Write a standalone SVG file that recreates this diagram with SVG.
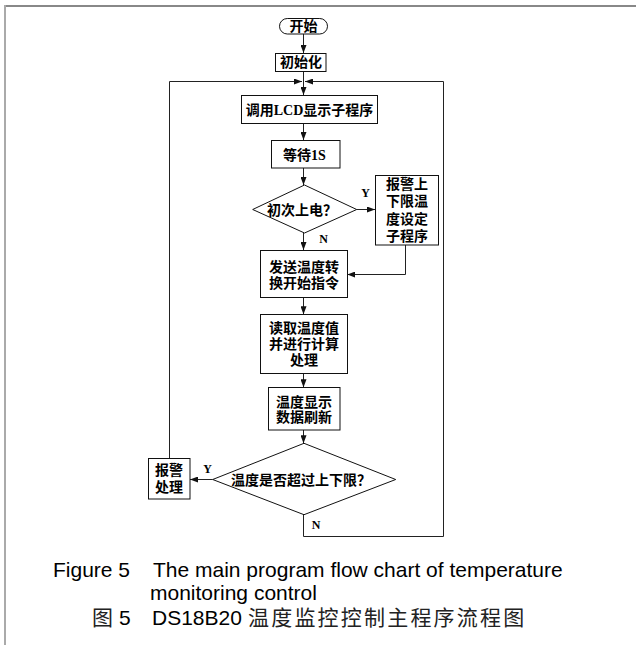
<svg xmlns="http://www.w3.org/2000/svg" width="636" height="645" viewBox="0 0 636 645">
  <defs>
    <marker id="arrow" markerUnits="userSpaceOnUse" markerWidth="8" markerHeight="6" refX="8" refY="3" orient="auto">
      <path d="M0,0 L8,3 L0,6 z" fill="#111"/>
    </marker>
    <style>
      .box { fill: #fff; stroke: #111; stroke-width: 1; }
      .line { fill: none; stroke: #222; stroke-width: 1; }
      .lbl { font-family: "Liberation Serif", "Noto Sans CJK SC", serif; font-weight: bold; font-size: 14px; fill: #000; text-anchor: middle; }
      .yn { font-family: "Liberation Serif", serif; font-weight: bold; font-size: 12px; fill: #000; text-anchor: middle; }
      .cap { font-family: "Liberation Sans", Arial, sans-serif; font-size: 21px; fill: #000; }
      .capcjk { font-family: "Noto Sans CJK SC", sans-serif; font-size: 21px; letter-spacing: 2.2px; fill: #222; }
    </style>
  </defs>

  <rect width="636" height="645" fill="#fff"/>

  <!-- page frame -->
  <rect x="4" y="5" width="632" height="2" fill="#888"/>
  <rect x="4" y="5" width="2" height="640" fill="#aaa"/>

  <!-- connectors -->
  <g id="connectors">
    <line class="line" x1="303.5" y1="34" x2="303.5" y2="53" marker-end="url(#arrow)"/>
    <line class="line" x1="303.5" y1="71.5" x2="303.5" y2="95" marker-end="url(#arrow)"/>
    <line class="line" x1="303.5" y1="123.5" x2="303.5" y2="140" marker-end="url(#arrow)"/>
    <line class="line" x1="303.5" y1="168" x2="303.5" y2="185" marker-end="url(#arrow)"/>
    <line class="line" x1="356.7" y1="209.5" x2="375" y2="209.5" marker-end="url(#arrow)"/>
    <line class="line" x1="303.5" y1="233" x2="303.5" y2="250" marker-end="url(#arrow)"/>
    <polyline class="line" points="405.5,245 405.5,274.5 347.3,274.5" marker-end="url(#arrow)"/>
    <line class="line" x1="303.5" y1="297.7" x2="303.5" y2="314.3" marker-end="url(#arrow)"/>
    <line class="line" x1="303.5" y1="373.3" x2="303.5" y2="387.3" marker-end="url(#arrow)"/>
    <line class="line" x1="303.5" y1="430" x2="303.5" y2="443.3" marker-end="url(#arrow)"/>
    <line class="line" x1="212.7" y1="479.5" x2="190" y2="479.5" marker-end="url(#arrow)"/>
    <polyline class="line" points="169.5,458.3 169.5,81.5 302,81.5" marker-end="url(#arrow)"/>
    <polyline class="line" points="303.5,514.7 303.5,536.5 443.5,536.5 443.5,81.5 305,81.5" marker-end="url(#arrow)"/>
  </g>

  <!-- flow nodes -->
  <g id="start">
    <rect class="box" x="279.5" y="18.5" width="48" height="15.5" rx="7.75"/>
    <text class="lbl" x="303.5" y="31">开始</text>
  </g>
  <g id="init">
    <rect class="box" x="275.5" y="53.5" width="50.5" height="18"/>
    <text class="lbl" x="301" y="67">初始化</text>
  </g>
  <g id="call-lcd">
    <rect class="box" x="241.5" y="95.5" width="136" height="28"/>
    <text class="lbl" x="309.5" y="114.5">调用LCD显示子程序</text>
  </g>
  <g id="wait">
    <rect class="box" x="271.5" y="140.5" width="68.5" height="27.5"/>
    <text class="lbl" x="304.5" y="160">等待1S</text>
  </g>
  <g id="first-power">
    <polygon class="box" points="252.7,209.5 304.5,185 356.7,209.5 304.5,233"/>
    <text class="lbl" x="302" y="215">初次上电？</text>
  </g>
  <g id="limit-setting">
    <rect class="box" x="375.5" y="175.5" width="63" height="69.5"/>
    <text class="lbl" x="407" y="188.5">报警上</text>
    <text class="lbl" x="407" y="206">下限温</text>
    <text class="lbl" x="407" y="223.5">度设定</text>
    <text class="lbl" x="407" y="241">子程序</text>
  </g>
  <g id="start-convert">
    <rect class="box" x="260.5" y="250.5" width="87" height="47"/>
    <text class="lbl" x="304" y="271.5">发送温度转</text>
    <text class="lbl" x="304" y="288">换开始指令</text>
  </g>
  <g id="read-calc">
    <rect class="box" x="260.5" y="314.5" width="87" height="59"/>
    <text class="lbl" x="304" y="333">读取温度值</text>
    <text class="lbl" x="304" y="349">并进行计算</text>
    <text class="lbl" x="304" y="364.5">处理</text>
  </g>
  <g id="refresh">
    <rect class="box" x="268.5" y="387.5" width="71.5" height="42.5"/>
    <text class="lbl" x="304" y="407">温度显示</text>
    <text class="lbl" x="304" y="422">数据刷新</text>
  </g>
  <g id="over-limit">
    <polygon class="box" points="212.7,479.5 304,443.3 395.7,479.5 304,514.7"/>
    <text class="lbl" x="301" y="484.5">温度是否超过上下限？</text>
  </g>
  <g id="alarm">
    <rect class="box" x="148.5" y="458.5" width="41.5" height="40.5"/>
    <text class="lbl" x="169" y="475">报警</text>
    <text class="lbl" x="169" y="492">处理</text>
  </g>

  <!-- branch labels -->
  <g id="branch-labels">
    <text class="yn" x="365.5" y="197">Y</text>
    <text class="yn" x="323.5" y="243">N</text>
    <text class="yn" x="207.5" y="473">Y</text>
    <text class="yn" x="316" y="529">N</text>
  </g>

  <!-- caption -->
  <g id="caption">
    <text class="cap" x="53" y="576.5">Figure 5</text>
    <text class="cap" x="153" y="576.5">The main program flow chart of temperature</text>
    <text class="cap" x="150" y="600">monitoring control</text>
    <text class="capcjk" x="92" y="625">图</text>
    <text class="cap" x="119" y="625">5</text>
    <text class="cap" x="152" y="625">DS18B20</text>
    <text class="capcjk" x="248" y="625">温度监控控制主程序流程图</text>
  </g>
</svg>
